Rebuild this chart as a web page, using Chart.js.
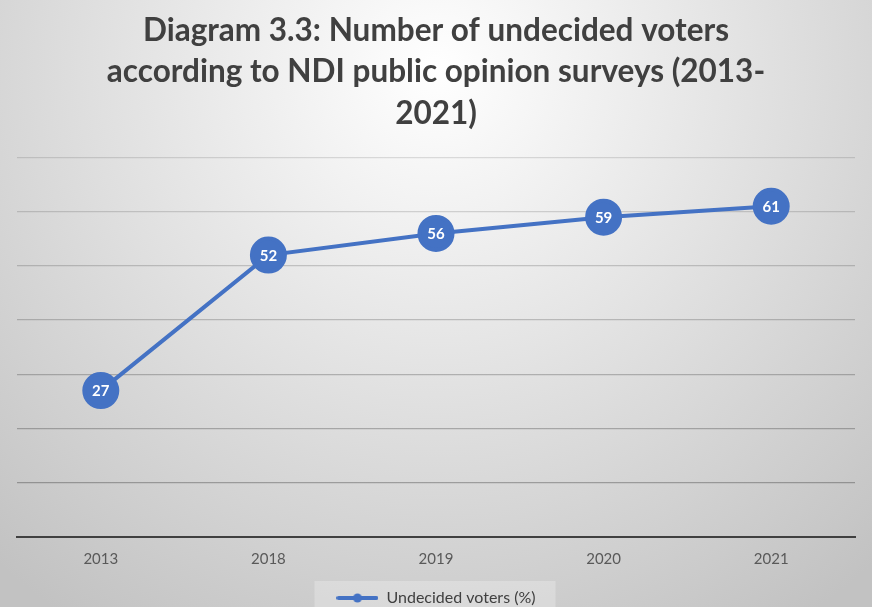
<!DOCTYPE html>
<html>
<head>
<meta charset="utf-8">
<script src="https://cdn.jsdelivr.net/npm/chart.js@4/dist/chart.umd.min.js"></script>
<style>
  html, body { margin: 0; padding: 0; background: #ffffff; }
  #wrap { width: 872px; height: 607px; position: relative; }
</style>
</head>
<body>
<div id="wrap"><canvas id="chart" width="872" height="607"></canvas></div>
<script>
// Survey years and share of undecided voters (%)
const years = ['2013', '2018', '2019', '2020', '2021'];
const undecided = [27, 52, 56, 59, 61];
const seriesName = 'Undecided voters (%)';
const titleLines = [
  'Diagram 3.3: Number of undecided voters',
  'according to NDI public opinion surveys (2013-',
  '2021)'
];

const BLUE = '#4472C4';
const FONT = 'Lato, "Open Sans", sans-serif';

// Legend swatch: a short line with a dot in the middle
function legendSwatch() {
  const c = document.createElement('canvas');
  c.width = 42; c.height = 10;
  const g = c.getContext('2d');
  g.strokeStyle = BLUE; g.lineWidth = 4; g.lineCap = 'round';
  g.beginPath(); g.moveTo(2, 5); g.lineTo(40, 5); g.stroke();
  g.fillStyle = BLUE;
  g.beginPath(); g.arc(21, 5, 4.5, 0, Math.PI * 2); g.fill();
  return c;
}

// Soft radial backdrop plus the pale box behind the legend
const backdrop = {
  id: 'backdrop',
  beforeDraw(chart) {
    const { ctx, width, height } = chart;
    ctx.save();
    const grad = ctx.createRadialGradient(436, 70, 0, 436, 70, 660);
    grad.addColorStop(0, '#ffffff');
    grad.addColorStop(1, '#c2c2c2');
    ctx.fillStyle = grad;
    ctx.fillRect(0, 0, width, height);
    const boxes = chart.legend && chart.legend.legendHitBoxes;
    if (boxes && boxes.length) {
      const b = boxes[0];
      ctx.fillStyle = 'rgba(255,255,255,0.25)';
      ctx.fillRect(b.left - 22, b.top - 9, b.width + 42, height - b.top + 9);
    }
    ctx.restore();
  }
};

// White value labels centred in each marker
const valueLabels = {
  id: 'valueLabels',
  afterDatasetsDraw(chart) {
    const { ctx } = chart;
    const meta = chart.getDatasetMeta(0);
    ctx.save();
    ctx.fillStyle = '#ffffff';
    ctx.font = 'bold 15px ' + FONT;
    ctx.textAlign = 'center';
    ctx.textBaseline = 'middle';
    meta.data.forEach((pt, i) => {
      ctx.fillText(String(chart.data.datasets[0].data[i]), pt.x, pt.y + 1);
    });
    ctx.restore();
  }
};

new Chart(document.getElementById('chart'), {
  type: 'line',
  data: {
    labels: years,
    datasets: [{
      label: seriesName,
      data: undecided,
      borderColor: BLUE,
      backgroundColor: BLUE,
      borderWidth: 4,
      pointRadius: 16.5,
      pointHoverRadius: 16.5,
      pointBackgroundColor: BLUE,
      pointBorderColor: BLUE,
      tension: 0
    }]
  },
  options: {
    responsive: false,
    animation: false,
    events: [],
    layout: { autoPadding: false, padding: { left: 17, right: 17, top: 6, bottom: -9 } },
    scales: {
      x: {
        offset: true,
        grid: { display: false },
        border: { display: true, color: '#404040', width: 2 },
        ticks: { color: '#595959', font: { family: FONT, size: 15 }, padding: 5 },
        // the outer year labels sit well inside the plot, no extra side room needed
        afterFit(scale) { scale.paddingLeft = 0; scale.paddingRight = 0; }
      },
      y: {
        min: 0, max: 70,
        ticks: { display: false, stepSize: 10, padding: 0 },
        border: { display: false },
        afterFit(scale) { scale.width = 0; },
        grid: {
          drawTicks: false,
          lineWidth: 1.3,
          color: (c) => {
            const v = c.tick ? c.tick.value : 0;
            if (v === 0) return 'rgba(0,0,0,0)';
            const a = 0.30 - (v / 70) * 0.18;
            return 'rgba(0,0,0,' + a.toFixed(3) + ')';
          }
        }
      }
    },
    plugins: {
      title: {
        display: true,
        text: titleLines,
        color: '#404040',
        font: { family: FONT, size: 31.5, weight: 'bold', lineHeight: '41.5px' },
        padding: { top: 4, bottom: 23 }
      },
      legend: {
        display: true,
        position: 'bottom',
        labels: {
          usePointStyle: true,
          pointStyle: legendSwatch(),
          pointStyleWidth: 42,
          color: '#404040',
          font: { family: FONT, size: 16 },
          padding: 17
        }
      },
      tooltip: { enabled: false }
    }
  },
  plugins: [backdrop, valueLabels]
});
</script>
</body>
</html>
